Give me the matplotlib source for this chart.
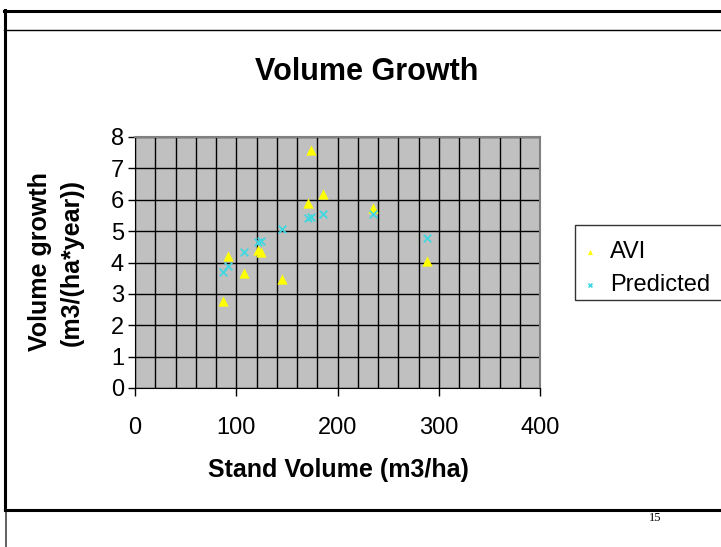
import matplotlib
matplotlib.use("Agg")
import matplotlib.pyplot as plt
from matplotlib.lines import Line2D
from matplotlib.patches import Rectangle
import numpy as np

stand_volume = [86.6, 92.2, 108.0, 121.8, 124.4, 145.3, 170.5, 173.4, 185.3, 235.4, 288.0]
avi = [2.76, 4.22, 3.65, 4.39, 4.35, 3.49, 5.90, 7.58, 6.18, 5.73, 4.05]
predicted = [3.69, 3.88, 4.33, 4.64, 4.70, 5.08, 5.42, 5.45, 5.55, 5.53, 4.79]
x_ticks = [0, 100, 200, 300, 400]
y_ticks = [0, 1, 2, 3, 4, 5, 6, 7, 8]

W, H = 721, 547
fig = plt.figure(figsize=(W / 100, H / 100), dpi=100)
fig.patch.set_facecolor("white")

def fx(px):
    return px / W

def fy(py):
    return 1 - py / H

# slide frame lines
fig.add_artist(Line2D([fx(4), fx(721)], [fy(10.5), fy(10.5)], color="black", lw=2.2))
fig.add_artist(Line2D([fx(4), fx(721)], [fy(29.5), fy(29.5)], color="black", lw=1.0))
fig.add_artist(Line2D([fx(5), fx(5)], [fy(10), fy(510)], color="black", lw=2.2))
fig.add_artist(Line2D([fx(5.5), fx(5.5)], [fy(510), fy(547)], color="#444444", lw=1.2))
fig.add_artist(Line2D([fx(5), fx(721)], [fy(509.5), fy(509.5)], color="black", lw=2.2))

ax = fig.add_axes([fx(135), fy(388), fx(540) - fx(135), fy(137) - fy(388)])
ax.set_facecolor("#C0C0C0")
ax.set_xlim(0, 400)
ax.set_ylim(0, 8)
ax.set_xticks(x_ticks)
ax.set_yticks(y_ticks)
ax.set_xticks(np.arange(0, 401, 20), minor=True)
ax.tick_params(axis="x", which="minor", length=0)
ax.grid(True, which="major", axis="y", color="black", lw=1.0)
ax.grid(True, which="both", axis="x", color="black", lw=1.0)
ax.set_axisbelow(True)
for s in ["top", "right"]:
    ax.spines[s].set_color("#808080")
    ax.spines[s].set_linewidth(1.5)
ax.spines["left"].set_color("black")
ax.spines["bottom"].set_color("black")
ax.tick_params(axis="y", which="major", direction="out", length=5, width=1,
               labelsize=17, pad=3)
ax.tick_params(axis="x", which="major", direction="out", length=6, width=1,
               labelsize=17, pad=15)
for lab in ax.get_xticklabels() + ax.get_yticklabels():
    lab.set_fontfamily("Liberation Sans")

ax.scatter(stand_volume, avi, marker="^", s=55, color="#FFFF00", label="AVI",
           zorder=3, linewidths=0)
ax.scatter(stand_volume, predicted, marker="x", s=30, color="#40D8E0", label="Predicted",
           zorder=3, linewidths=1.3)

fig.text(fx(367), fy(72), "Volume Growth", ha="center", va="center",
         fontsize=22, fontweight="bold", family="Liberation Sans")
fig.text(fx(338), fy(470), "Stand Volume (m3/ha)", ha="center", va="center",
         fontsize=18, fontweight="bold", family="Liberation Sans")
fig.text(fx(40), fy(262), "Volume growth", ha="center", va="center", rotation=90,
         fontsize=18, fontweight="bold", family="Liberation Sans")
fig.text(fx(72), fy(262), "(m3/(ha*year))", ha="center", va="center", rotation=90,
         fontsize=18, fontweight="bold", family="Liberation Sans")

# legend frame
fig.add_artist(Rectangle((fx(575), fy(300)), fx(722) - fx(575), fy(225) - fy(300),
                         transform=fig.transFigure, facecolor="white",
                         edgecolor="#333333", lw=1.0, zorder=-1))
leg = ax.legend(loc="center left", bbox_to_anchor=(fx(577), fy(268.5)),
                bbox_transform=fig.transFigure, frameon=False,
                borderaxespad=0.0, borderpad=0.3,
                prop={"family": "Liberation Sans", "size": 17}, handlelength=0.5,
                handletextpad=0.6, labelspacing=0.45, markerscale=0.5)

fig.text(fx(655), fy(518), "15", ha="center", va="center", fontsize=9,
         family="Liberation Serif")

fig.savefig("out.png", dpi=100, facecolor="white")
